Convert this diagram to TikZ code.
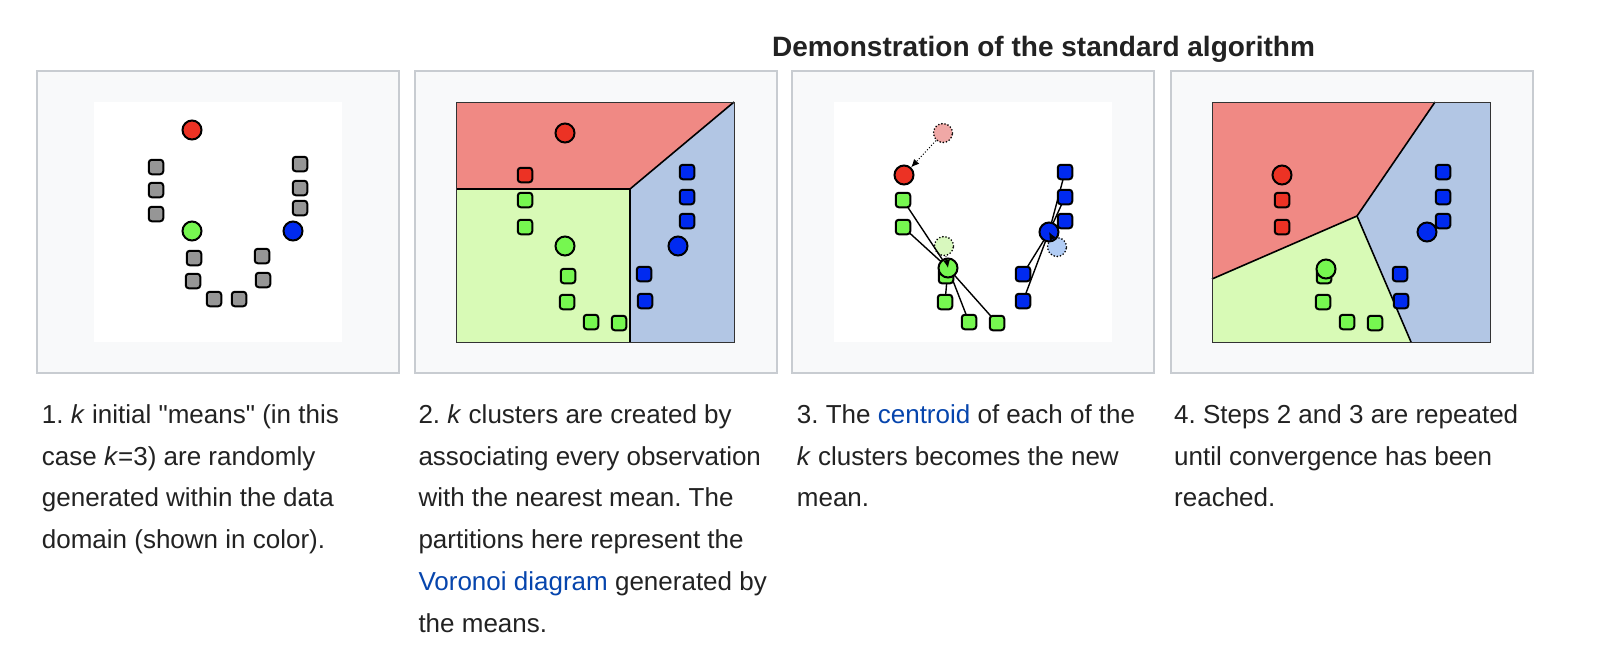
\documentclass[tikz,border=0pt]{standalone}
\usepackage{fontspec}
\setmainfont{Liberation Sans}
\usepackage{xcolor}
\usetikzlibrary{positioning}
\usetikzlibrary{arrows.meta}
\frenchspacing

\definecolor{kred}{RGB}{236,50,36}
\definecolor{kgreen}{RGB}{118,247,80}
\definecolor{kblue}{RGB}{0,42,240}
\definecolor{kgrey}{RGB}{150,150,150}
\definecolor{redzone}{RGB}{240,137,132}
\definecolor{greenzone}{RGB}{216,250,182}
\definecolor{bluezone}{RGB}{178,198,228}
\definecolor{oldred}{RGB}{240,168,166}
\definecolor{oldgreen}{RGB}{216,248,190}
\definecolor{oldblue}{RGB}{178,205,245}
\definecolor{panelline}{RGB}{200,204,209}
\definecolor{panelbg}{RGB}{248,249,250}
\definecolor{wikilink}{RGB}{6,69,173}
\definecolor{ink}{RGB}{34,34,34}

\begin{document}
\begin{tikzpicture}[%
    x=1pt, y=-1pt,
    obs/.style={draw,rectangle,rounded corners=3pt,minimum size=14.5pt,inner sep=0pt,line width=2pt},
    mean/.style={draw,circle,minimum size=19pt,inner sep=0pt,line width=2pt},
    oldmean/.style={draw,circle,minimum size=19pt,inner sep=0pt,line width=1.8pt,dash pattern=on 0pt off 3.2pt,line cap=round},
    panel/.style={draw=panelline,fill=panelbg,line width=1.5pt},
    frame/.style={draw=black!80,line width=1pt},
    border/.style={line width=1.6pt},
    move/.style={dotted,line width=1pt,-{Latex[length=8pt,width=7pt]}},
    caption/.style={anchor=base west,align=left,inner sep=0pt,text=ink,font=\fontsize{26}{41.8}\selectfont}
]
        \useasboundingbox (0,0) rectangle (1614,670);
        \fill[white] (0,0) rectangle (1614,670);

        % panels
        \foreach \x in {37,415,792,1171}
            \path[panel] (\x,71) rectangle ++(362,302);
        \fill[white] (94,102) rectangle (342,342);
        \fill[white] (834,102) rectangle (1112,342);

        % step 1
        \foreach \x/\y [count=\i] in {156/167,156/190,156/214,300/164,300/188,300/208,194/258,193/281,214/299,239/299,262/256,263/280}
            \node[obs,fill=kgrey] (a\i) at (\x,\y) {};
        \node[mean,fill=kred] (am1) at (192,130) {};
        \node[mean,fill=kgreen] (am2) at (192,231) {};
        \node[mean,fill=kblue] (am3) at (293,231) {};

        % step 2
        \fill[redzone] (456,102) -- (734,102) -- (630,189) -- (456,189) -- cycle;
        \fill[greenzone] (456,189) -- (630,189) -- (630,342) -- (456,342) -- cycle;
        \fill[bluezone] (630,189) -- (734,102) -- (734,342) -- (630,342) -- cycle;
        \draw[border] (456,189) -- (630,189) -- (734,102);
        \draw[border] (630,189) -- (630,342);
        \draw[frame] (456,102) rectangle (734,342);
        \node[obs,fill=kred] (br1) at (525,175) {};
        \foreach \x/\y [count=\i] in {525/200,525/227,568/276,567/302,591/322,619/323}
            \node[obs,fill=kgreen] (bg\i) at (\x,\y) {};
        \foreach \x/\y [count=\i] in {687/172,687/197,687/221,644/274,645/301}
            \node[obs,fill=kblue] (bb\i) at (\x,\y) {};
        \node[mean,fill=kred] (bm1) at (565,133) {};
        \node[mean,fill=kgreen] (bm2) at (565,246) {};
        \node[mean,fill=kblue] (bm3) at (678,246) {};

        % step 3
        \foreach \x/\y [count=\i] in {903/200,903/227,946/276,945/302,969/322,997/323}
            \coordinate (cg\i) at (\x,\y);
        \foreach \x/\y [count=\i] in {1065/172,1065/197,1065/221,1023/274,1023/301}
            \coordinate (cb\i) at (\x,\y);
        \coordinate (cmg) at (948,268);
        \coordinate (cmb) at (1049,232);
        \node[oldmean,fill=oldred] (co1) at (943,133) {};
        \node[oldmean,fill=oldgreen] (co2) at (944,246) {};
        \node[oldmean,fill=oldblue] (co3) at (1057,247) {};
        \foreach \i in {1,...,6}
            \draw[line width=1.4pt] (cg\i) -- (cmg);
        \foreach \i in {1,...,5}
            \draw[line width=1.4pt] (cb\i) -- (cmb);
        \foreach \i in {1,...,6}
            \node[obs,fill=kgreen] (cgs\i) at (cg\i) {};
        \foreach \i in {1,...,5}
            \node[obs,fill=kblue] (cbs\i) at (cb\i) {};
        \node[mean,fill=kred] (cm1) at (904,175) {};
        \node[mean,fill=kgreen] (cm2) at (cmg) {};
        \node[mean,fill=kblue] (cm3) at (cmb) {};
        \path[draw,move] (co1) -- (cm1);
        \path[draw,move] (co2) -- (cm2.center);
        \path[draw,move] (co3) -- (cm3.center);

        % step 4
        \fill[redzone] (1212,102) -- (1435,102) -- (1357,216) -- (1212,279) -- cycle;
        \fill[greenzone] (1212,279) -- (1357,216) -- (1411,342) -- (1212,342) -- cycle;
        \fill[bluezone] (1435,102) -- (1490,102) -- (1490,342) -- (1411,342) -- (1357,216) -- cycle;
        \draw[border] (1435,102) -- (1357,216) -- (1212,279);
        \draw[border] (1357,216) -- (1411,342);
        \draw[frame] (1212,102) rectangle (1490,342);
        \foreach \y [count=\i] in {200,227}
            \node[obs,fill=kred] (dr\i) at (1282,\y) {};
        \foreach \x/\y [count=\i] in {1324/276,1323/302,1347/322,1375/323}
            \node[obs,fill=kgreen] (dg\i) at (\x,\y) {};
        \foreach \x/\y [count=\i] in {1443/172,1443/197,1443/221,1400/274,1401/301}
            \node[obs,fill=kblue] (db\i) at (\x,\y) {};
        \node[mean,fill=kred] (dm1) at (1282,175) {};
        \node[mean,fill=kgreen] (dm2) at (1326,269) {};
        \node[mean,fill=kblue] (dm3) at (1427,232) {};

        % texts (base = last line)
        \node[anchor=base,text=ink,font=\bfseries\fontsize{28}{34}\selectfont] (title) at (1043.5,56.7) {Demonstration of the standard algorithm};
        \node[caption] (cap1) at (41.7,548.7) {1. \textit{k} initial \textquotedbl means\textquotedbl{} (in this\\case \textit{k}=3) are randomly\\generated within the data\\domain (shown in color).};
        \node[caption] (cap2) at (418.3,632.3) {2. \textit{k} clusters are created by\\associating every observation\\with the nearest mean. The\\partitions here represent the\\\textcolor{wikilink}{Voronoi diagram} generated by\\the means.};
        \node[caption] (cap3) at (796.7,506.9) {3. The \textcolor{wikilink}{centroid} of each of the\\\textit{k} clusters becomes the new\\mean.};
        \node[caption] (cap4) at (1174,506.9) {4. Steps 2 and 3 are repeated\\until convergence has been\\reached.};
\end{tikzpicture}
\end{document}
